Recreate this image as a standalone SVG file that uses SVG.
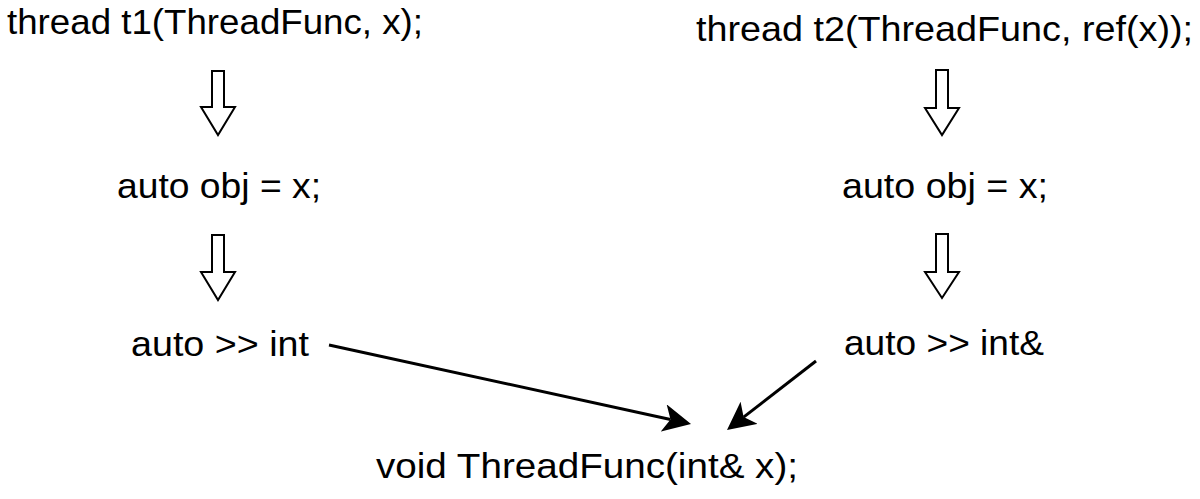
<svg xmlns="http://www.w3.org/2000/svg" width="1200" height="499" viewBox="0 0 1200 499">
<style>
text{font-family:"Liberation Sans",Arial,sans-serif;font-size:35px;fill:#000}
.hollow{fill:#fff;stroke:#000;stroke-width:2;stroke-linejoin:miter}
.conn{stroke:#000;stroke-width:3;fill:none}
</style>
<defs>
<marker id="arr" viewBox="0 0 28 28" refX="7" refY="14" markerWidth="28" markerHeight="28" markerUnits="userSpaceOnUse" orient="auto">
<path d="M0,0 L28,14 L0,28 L7,14 Z" fill="#000"/>
</marker>
</defs>
<rect width="1200" height="499" fill="#fff"/>
<g id="t1"><text x="7" y="34" textLength="416" lengthAdjust="spacingAndGlyphs">thread t1(ThreadFunc, x);</text></g>
<g id="t2"><text x="696" y="41" textLength="497" lengthAdjust="spacingAndGlyphs">thread t2(ThreadFunc, ref(x));</text></g>
<g id="obj1"><text x="117" y="198" textLength="204" lengthAdjust="spacingAndGlyphs">auto obj = x;</text></g>
<g id="obj2"><text x="842" y="198" textLength="206" lengthAdjust="spacingAndGlyphs">auto obj = x;</text></g>
<g id="int1"><text x="131" y="356" textLength="178" lengthAdjust="spacingAndGlyphs">auto &gt;&gt; int</text></g>
<g id="int2"><text x="844" y="355" textLength="200" lengthAdjust="spacingAndGlyphs">auto &gt;&gt; int&amp;</text></g>
<g id="func"><text x="376" y="478" textLength="422" lengthAdjust="spacingAndGlyphs">void ThreadFunc(int&amp; x);</text></g>
<g id="hollow-arrows">
<polygon class="hollow" points="212,71 224,71 224,107 235,107 218,135 201,107 212,107"/>
<polygon class="hollow" points="212,235 224,235 224,272 235,272 218,300 201,272 212,272"/>
<polygon class="hollow" points="936,70 948,70 948,108 959,108 942,135 925,108 936,108"/>
<polygon class="hollow" points="936,234 948,234 948,272 959,272 942,298 925,272 936,272"/>
</g>
<g id="connectors">
<line class="conn" x1="329" y1="345" x2="670.5" y2="419.5" marker-end="url(#arr)"/>
<line class="conn" x1="816" y1="361" x2="743.6" y2="417.1" marker-end="url(#arr)"/>
</g>
</svg>
